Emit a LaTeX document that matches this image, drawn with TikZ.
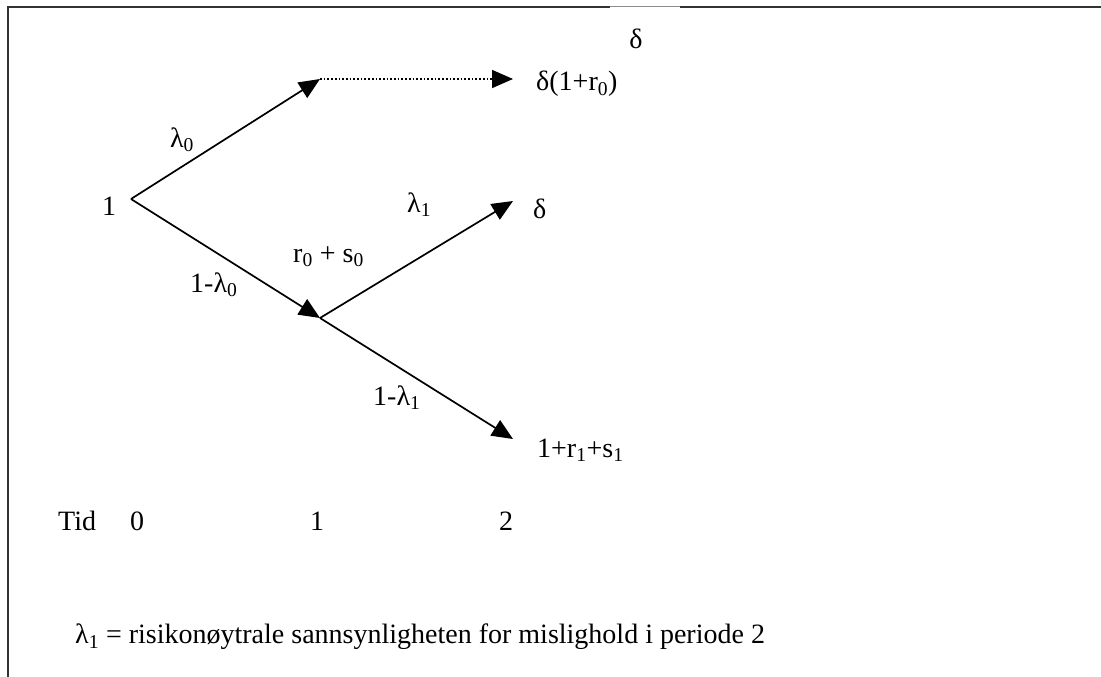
\documentclass[tikz,border=0pt]{standalone}
\usepackage{fontspec}
\setmainfont{Liberation Serif}
\usetikzlibrary{arrows.meta}

\begin{document}
\begin{tikzpicture}[
    x=1pt, y=-1pt,
    lbl/.style={inner sep=0pt, anchor=base west, font=\fontsize{28}{32}\selectfont},
    branch/.style={-{Triangle[length=21pt, width=18pt]}, line width=1.7pt},
    frame/.style={line width=2pt, draw=black!80}
  ]
  \useasboundingbox (0,0) rectangle (1101,677);

  % frame
  \coordinate (fbl) at (8,677);
  \coordinate (ftl) at (8,7);
  \coordinate (fga) at (610,7);
  \coordinate (fgb) at (680,7);
  \coordinate (ftr) at (1101,7);
  \draw[frame] (fbl) -- (ftl) -- (fga);
  \draw[line width=1pt, draw=black!45] (fga) -- (fgb);
  \draw[frame] (fgb) -- (ftr);

  % tree points
  \coordinate (v0)  at (131,199);
  \coordinate (vup) at (320,79);
  \coordinate (vdn) at (320,318);
  \coordinate (eup) at (513,79);
  \coordinate (emd) at (513,201);
  \coordinate (elo) at (513,439);

  \node[lbl, anchor=base] (topd)  at (636,49)  {δ};
  \node[lbl, anchor=base] (start) at (109,215) {1};
  \node[lbl] (pay0) at (536,91)  {δ(1+r\textsubscript{0})};
  \node[lbl] (pay1) at (533,218) {δ};
  \node[lbl] (pay2) at (537,457) {1+r\textsubscript{1}+s\textsubscript{1}};

  \node[lbl, anchor=center] (l0) at (182,140) {λ\textsubscript{0}};
  \node[lbl] (nl0)  at (190,292) {1-λ\textsubscript{0}};
  \node[lbl] (rs0)  at (293,262) {r\textsubscript{0} + s\textsubscript{0}};
  \node[lbl] (l1)   at (407,212) {λ\textsubscript{1}};
  \node[lbl] (nl1)  at (373,405) {1-λ\textsubscript{1}};

  \draw[branch] (v0) -- (vup);
  \draw[branch, dotted] (vup) -- (eup);
  \draw[branch] (v0) -- (vdn);
  \draw[branch] (vdn) -- (emd);
  \draw[branch] (vdn) -- (elo);

  % time axis
  \node[lbl] (tid) at (58,530) {Tid};
  \node[lbl, anchor=base] (t0) at (137,530) {0};
  \node[lbl, anchor=base] (t1) at (317,530) {1};
  \node[lbl, anchor=base] (t2) at (506,530) {2};

  \node[lbl, anchor=west] (note) at (75,637)
    {λ\textsubscript{1} = risikonøytrale sannsynligheten for mislighold i periode 2};
\end{tikzpicture}
\end{document}
